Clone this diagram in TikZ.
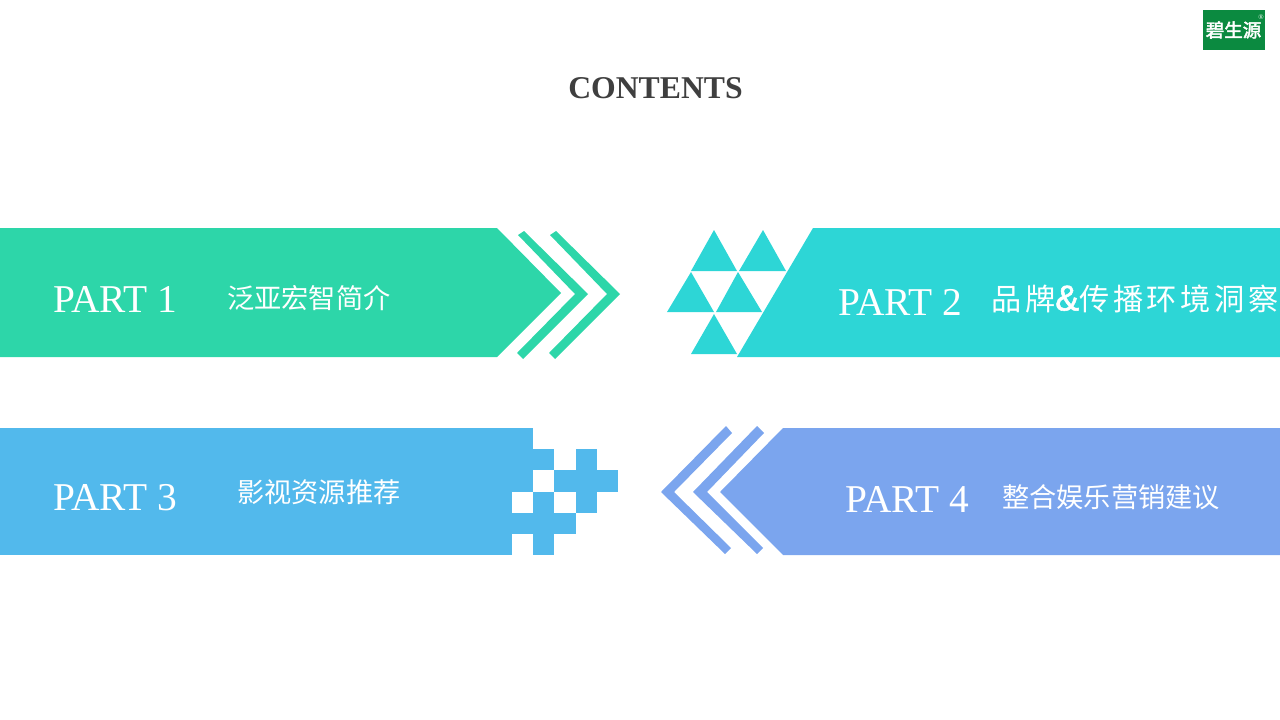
\documentclass[tikz,border=0pt]{standalone}
\usepackage{fontspec}
\setmainfont{Liberation Serif}
\newfontfamily\cjk{Noto Sans CJK SC}
\newfontfamily\cjkwide{Noto Sans CJK SC}[LetterSpace=12]
\newfontfamily\cjkb{Noto Sans CJK SC}[FakeBold=2.5]
\newfontfamily\ampfont{Liberation Sans}[FakeBold=1.5]
\definecolor{cgreen}{HTML}{2DD6A9}
\definecolor{cteal}{HTML}{2DD6D6}
\definecolor{cblue}{HTML}{52B9EC}
\definecolor{cpurple}{HTML}{7BA5EE}
\definecolor{clogo}{HTML}{0B8A40}
\definecolor{ctitle}{HTML}{3F3F3F}
\tikzset{
  part/.style={text=white,font=\fontsize{39.4}{39.4}\selectfont,inner sep=0pt},
  cn/.style={text=white,font=\cjk\fontsize{27.2}{27.2}\selectfont,inner sep=0pt},
}
\begin{document}
\begin{tikzpicture}[x=1pt,y=-1pt]
\useasboundingbox (0,0) rectangle (1280,720);
% green
\fill[cgreen] (0,228)--(497,228)--(561,293)--(497,357)--(0,357)--cycle;
\fill[cgreen] (518,235)--(524,231)--(588,294)--(523,359)--(517,353)--(575,294)--cycle;
\fill[cgreen] (550,235)--(556,231)--(620,294)--(555,359)--(549,353)--(607,294)--cycle;
% teal
\fill[cteal] (1280,228)--(813,228)--(737,357)--(1280,357)--cycle;
\fill[cteal] (714,230)--(737,271)--(691,271)--cycle;
\fill[cteal] (763,230)--(786,271)--(739,271)--cycle;
\fill[cteal] (691,272)--(714,312)--(667,312)--cycle;
\fill[cteal] (738,272)--(762,312)--(716,312)--cycle;
\fill[cteal] (714,314)--(737,354)--(691,354)--cycle;
% blue
\fill[cblue] (0,428) rectangle (533,449);
\fill[cblue] (0,449) rectangle (554,470);
\fill[cblue] (0,470) rectangle (533,492);
\fill[cblue] (0,492) rectangle (512,555);
\fill[cblue] (512,513) rectangle (576,534);
\fill[cblue] (533,492) rectangle (554,555);
\fill[cblue] (554,470) rectangle (618,492);
\fill[cblue] (576,449) rectangle (597,513);
% purple
\fill[cpurple] (1280,428)--(783,428)--(720,492)--(783,555)--(1280,555)--cycle;
\fill[cpurple] (757,426)--(764,433)--(707,492)--(763,548)--(757,554)--(693,492)--cycle;
\fill[cpurple] (726,426)--(732,433)--(674,492)--(731,548)--(725,554)--(661,492)--cycle;
% logo
\fill[clogo] (1203,10) rectangle (1265,50);
\node[text=white,inner sep=0pt,font=\cjkb\fontsize{18.5}{18.5}\selectfont] (logo) at (1233.5,30) {碧生源};
\node[text=white,inner sep=0pt,font=\fontsize{7}{7}\selectfont] (reg) at (1261,17) {®};
% text
\node[inner sep=0pt,text=ctitle,font=\bfseries\fontsize{31.7}{31.7}\selectfont] (title) at (655.5,88) {CONTENTS};
\node[part,anchor=west] (p1) at (53,299.5) {PART 1};
\node[part,anchor=west] (p2) at (838,302.5) {PART 2};
\node[part,anchor=west] (p3) at (53,497.5) {PART 3};
\node[part,anchor=west] (p4) at (845,499.5) {PART 4};
\node[cn,anchor=west] (c1) at (227,298) {泛亚宏智简介};
\node[cn,anchor=west,font=\cjkwide\fontsize{30.2}{30.2}\selectfont] (c2) at (991,299) {品牌{\ampfont\fontsize{36}{36}\selectfont\&}传播环境洞察};
\node[cn,anchor=west] (c3) at (237,492) {影视资源推荐};
\node[cn,anchor=west] (c4) at (1002,497) {整合娱乐营销建议};
\end{tikzpicture}
\end{document}
